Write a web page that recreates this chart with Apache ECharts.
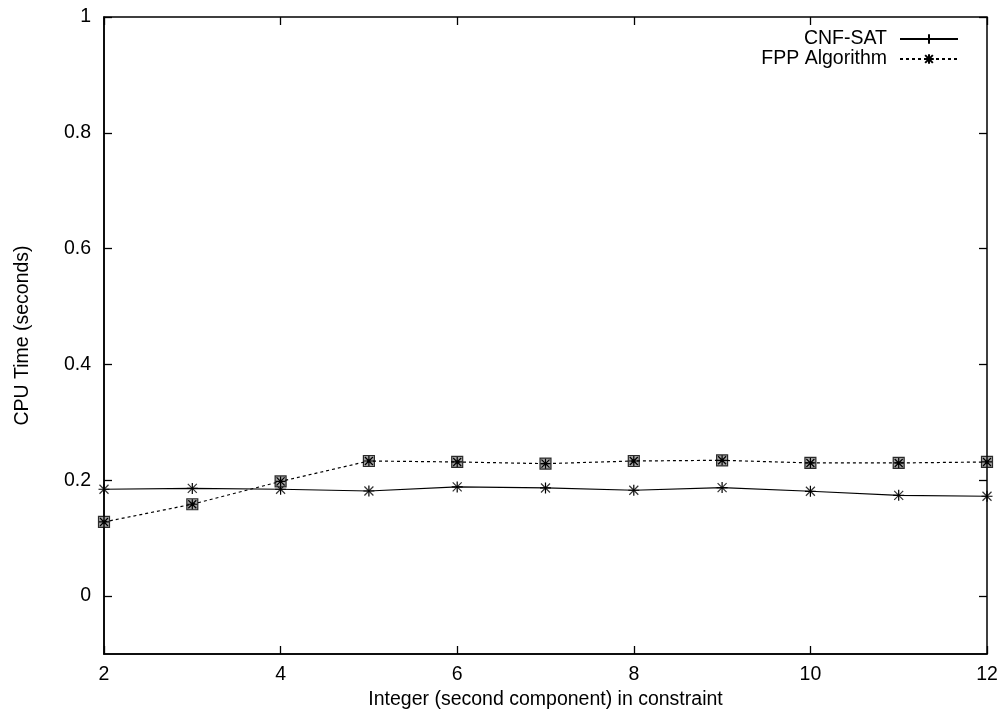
<!DOCTYPE html>
<html>
<head>
<meta charset="utf-8">
<script src="https://cdn.jsdelivr.net/npm/echarts@6/dist/echarts.min.js"></script>
<style>
  html, body { margin: 0; padding: 0; background: #fff; }
  #chart { width: 1006px; height: 719px; }
</style>
</head>
<body>
<div id="chart"></div>
<script>
// Values
var xValues = [2, 3, 4, 5, 6, 7, 8, 9, 10, 11, 12];
var cnfSat = [0.1845, 0.186, 0.1845, 0.1815, 0.1885, 0.1867, 0.1828, 0.1874, 0.181, 0.174, 0.1724];
var fppAlgorithm = [0.128, 0.1586, 0.198, 0.2333, 0.2316, 0.2287, 0.2333, 0.2345, 0.2299, 0.2299, 0.2316];
var yTicks = [0, 0.2, 0.4, 0.6, 0.8, 1];

var FONT = '"Liberation Sans", Arial, sans-serif';
var FS = 19.5;
var PLUS = 'path://M0,5L10,5M5,0L5,10';
var CROSS = 'path://M0,0L10,10M10,0L0,10';
var STAR = 'path://M0,5L10,5M5,0L5,10M1,1L9,9M9,1L1,9';
var BOX = 'path://M0,0L10,0L10,10L0,10Z';

function pairs(ys) {
    return xValues.map(function (x, i) { return [x, ys[i]]; });
}

var chartDom = document.getElementById('chart');
var myChart = echarts.init(chartDom, null, { renderer: 'canvas' });

var tickStyle = { show: true, inside: true, length: 8, lineStyle: { color: '#000', width: 1.3 } };

var option = {
    animation: false,
    backgroundColor: '#fff',
    textStyle: { fontFamily: FONT, color: '#000' },
    grid: {
        left: 104, right: 19, top: 17, bottom: 65,
        show: true, borderColor: '#000', borderWidth: 1.5
    },
    legend: {
        orient: 'vertical',
        right: 42,
        top: 24,
        align: 'right',
        itemWidth: 58,
        itemHeight: 12,
        itemGap: 0,
        textStyle: { fontFamily: FONT, fontSize: FS, color: '#000', padding: [0, 8, 0, 0] },
        data: ['CNF-SAT', 'FPP Algorithm']
    },
    xAxis: [{
        type: 'value',
        min: 2, max: 12, interval: 2,
        name: 'Integer (second component) in constraint',
        nameLocation: 'middle',
        nameGap: 25,
        nameTextStyle: { fontFamily: FONT, fontSize: FS, color: '#000' },
        axisLine: { show: true, onZero: false, lineStyle: { color: '#000', width: 1.5 } },
        axisTick: tickStyle,
        axisLabel: { fontFamily: FONT, fontSize: FS, color: '#000', margin: 11 },
        splitLine: { show: false }
    }, {
        type: 'value',
        position: 'top',
        min: 2, max: 12, interval: 2,
        axisLine: { show: false, onZero: false },
        axisTick: tickStyle,
        axisLabel: { show: false },
        splitLine: { show: false }
    }],
    yAxis: [{
        type: 'value',
        min: -0.1, max: 1,
        name: 'CPU Time (seconds)',
        nameLocation: 'middle',
        nameGap: 71,
        nameTextStyle: { fontFamily: FONT, fontSize: FS, color: '#000' },
        axisLine: { show: true, onZero: false, lineStyle: { color: '#000', width: 1.5 } },
        axisTick: Object.assign({ customValues: yTicks }, tickStyle),
        axisLabel: { customValues: yTicks, fontFamily: FONT, fontSize: FS, color: '#000', margin: 13 },
        splitLine: { show: false }
    }, {
        type: 'value',
        position: 'right',
        min: -0.1, max: 1,
        axisLine: { show: false, onZero: false },
        axisTick: Object.assign({ customValues: yTicks }, tickStyle),
        axisLabel: { show: false },
        splitLine: { show: false }
    }],
    series: [{
        name: 'CNF-SAT',
        type: 'line',
        data: pairs(cnfSat),
        symbol: PLUS,
        symbolSize: 11,
        showAllSymbol: true,
        lineStyle: { color: '#000', width: 1.2 },
        itemStyle: { color: '#000', borderColor: '#000', borderWidth: 1.2 },
        z: 3
    }, {
        name: 'cnf-cross',
        type: 'scatter',
        data: pairs(cnfSat),
        symbol: CROSS,
        symbolSize: 9,
        itemStyle: { color: '#000', borderColor: '#000', borderWidth: 1.2 },
        z: 4,
        silent: true
    }, {
        name: 'fpp-box',
        type: 'scatter',
        data: pairs(fppAlgorithm),
        symbol: BOX,
        symbolSize: 11,
        itemStyle: { color: '#8c8c8c', borderColor: '#000', borderWidth: 1.2 },
        z: 4,
        silent: true
    }, {
        name: 'FPP Algorithm',
        type: 'line',
        data: pairs(fppAlgorithm),
        symbol: STAR,
        symbolSize: 10,
        showAllSymbol: true,
        lineStyle: { color: '#000', width: 1.2, type: [3, 3] },
        itemStyle: { color: '#000', borderColor: '#000', borderWidth: 1.2 },
        z: 5
    }]
};

myChart.setOption(option);
</script>
</body>
</html>
